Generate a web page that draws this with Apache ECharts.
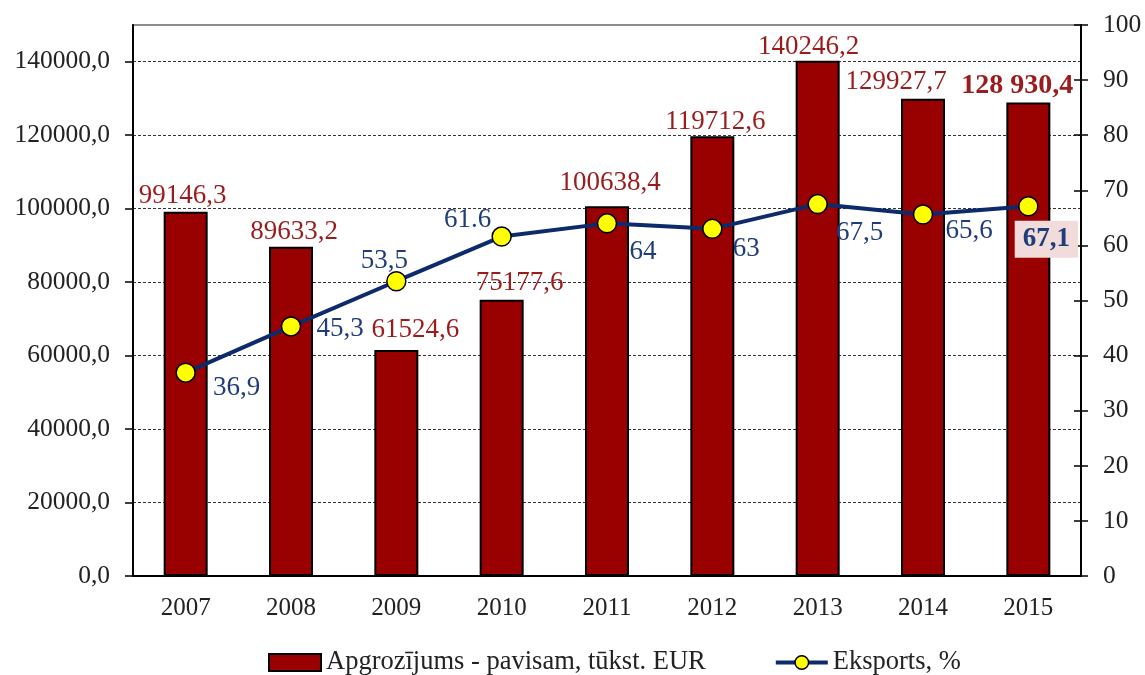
<!DOCTYPE html>
<html>
<head>
<meta charset="utf-8">
<script src="https://cdn.jsdelivr.net/npm/echarts@6/dist/echarts.min.js"></script>
<style>
    html, body { margin: 0; padding: 0; background: #fff; }
    #chart { width: 1145px; height: 675px; }
</style>
</head>
<body>
<div id="chart"></div>
<script>
const years = ["2007", "2008", "2009", "2010", "2011", "2012", "2013", "2014", "2015"];
const turnover = [99146.3, 89633.2, 61524.6, 75177.6, 100638.4, 119712.6, 140246.2, 129927.7, 128930.4];
const turnoverLabels = ["99146,3", "89633,2", "61524,6", "75177,6", "100638,4", "119712,6", "140246,2", "129927,7", "128 930,4"];
const exportShare = [36.9, 45.3, 53.5, 61.6, 64, 63, 67.5, 65.6, 67.1];
const exportLabels = ["36,9", "45,3", "53,5", "61.6", "64", "63", "67,5", "65,6", "67,1"];

const FONT = "Liberation Serif";
const BAR_TEXT = "#9A1C1C";
const LINE_TEXT = "#1F3D7A";

// label nudges
const barLabelOffsets = [[-3, 3], [3, 4], [19, -2], [18, 2], [3, -5], [3, 4], [-9, 5], [-27, 2], [-11, 2]];
const lineLabelOffsets = [[51, 15], [49, 3], [-12, -20], [-34, -17], [36, 29], [34, 20], [42, 29], [46, 16], [18, 33]];

const chart = echarts.init(document.getElementById("chart"));

const barData = turnover.map((v, i) => {
    const item = {
        value: v,
        label: { offset: barLabelOffsets[i] }
    };
    if (i === turnover.length - 1) {
        item.label.fontWeight = "bold";
        item.label.fontSize = 28;
    }
    return item;
});

const lineData = exportShare.map((v, i) => {
    const item = {
        value: v,
        label: { offset: lineLabelOffsets[i] }
    };
    if (i === exportShare.length - 1) {
        item.label.fontWeight = "bold";
        item.label.backgroundColor = "#F2DCDB";
        item.label.padding = [6, 8, 4, 8];
    }
    return item;
});

const option = {
    textStyle: { fontFamily: FONT },
    animation: false,
    grid: {
        left: 133,
        right: 64,
        top: 25,
        bottom: 99,
        show: true,
        borderColor: "#8c8c8c",
        borderWidth: 2,
        backgroundColor: "#fff"
    },
    legend: {
        left: 263,
        bottom: -6,
        itemGap: 68,
        itemWidth: 52,
        itemHeight: 17,
        textStyle: { fontFamily: FONT, fontSize: 26.5, color: "#222" },
        data: [
            {
                name: "Apgrozījums - pavisam, tūkst. EUR",
                icon: "rect",
                itemStyle: { borderColor: "#000", borderWidth: 2 }
            },
            {
                name: "Eksports, %",
                lineStyle: { width: 4 },
                itemStyle: { borderColor: "#000", borderWidth: 1.5 }
            }
        ]
    },
    xAxis: {
        type: "category",
        data: years,
        axisLine: { lineStyle: { color: "#000", width: 2 } },
        axisTick: { length: 8, lineStyle: { color: "#000", width: 1.5 } },
        axisLabel: { fontFamily: FONT, fontSize: 25, color: "#222", margin: 20 }
    },
    yAxis: [
        {
            type: "value",
            min: 0,
            max: 150000,
            interval: 20000,
            position: "left",
            axisLine: { show: true, lineStyle: { color: "#000", width: 2 } },
            axisTick: { show: true, length: 8, lineStyle: { color: "#000", width: 1.5 } },
            axisLabel: {
                fontFamily: FONT, fontSize: 25.5, color: "#222", margin: 23,
                showMaxLabel: false,
                formatter: v => v.toFixed(1).replace(".", ",")
            },
            splitLine: {
                show: true,
                showMinLine: false,
                showMaxLine: false,
                lineStyle: { color: "#333", type: [3, 2], width: 1 }
            }
        },
        {
            type: "value",
            min: 0,
            max: 100,
            interval: 10,
            position: "right",
            axisLine: { show: true, lineStyle: { color: "#000", width: 2 } },
            axisTick: { show: true, length: 7, lineStyle: { color: "#000", width: 1.5 } },
            axisLabel: { fontFamily: FONT, fontSize: 25.5, color: "#222", margin: 22 },
            splitLine: { show: false }
        },
        {
            // inner half of the right axis ticks
            type: "value",
            min: 0,
            max: 100,
            interval: 10,
            position: "right",
            axisLine: { show: false },
            axisTick: { show: true, inside: true, length: 7, lineStyle: { color: "#000", width: 1.5 } },
            axisLabel: { show: false },
            splitLine: { show: false }
        }
    ],
    series: [
        {
            name: "Apgrozījums - pavisam, tūkst. EUR",
            type: "bar",
            yAxisIndex: 0,
            barWidth: 44,
            data: barData,
            itemStyle: { color: "#990000", borderColor: "#000", borderWidth: 2 },
            label: {
                show: true,
                position: "top",
                distance: 5,
                fontFamily: FONT,
                fontSize: 27,
                color: BAR_TEXT,
                formatter: p => turnoverLabels[p.dataIndex]
            },
            z: 2
        },
        {
            name: "Eksports, %",
            type: "line",
            yAxisIndex: 1,
            data: lineData,
            symbol: "circle",
            symbolSize: 19,
            lineStyle: { color: "#0D2A6B", width: 4 },
            itemStyle: { color: "#FFFF00", borderColor: "#000", borderWidth: 1.5 },
            label: {
                show: true,
                position: "inside",
                fontFamily: FONT,
                fontSize: 27,
                color: LINE_TEXT,
                formatter: p => exportLabels[p.dataIndex]
            },
            z: 3
        }
    ]
};

chart.setOption(option);
</script>
</body>
</html>
